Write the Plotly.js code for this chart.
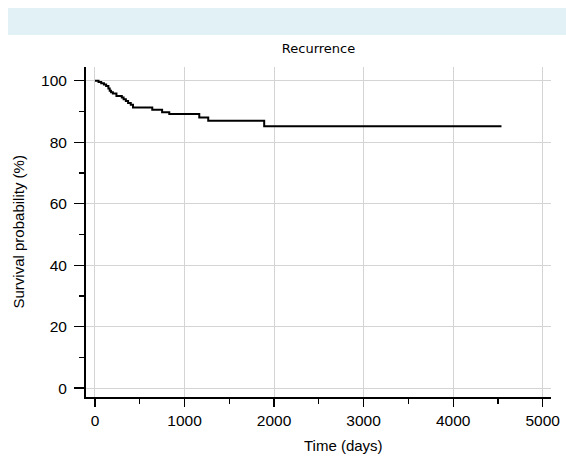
<!DOCTYPE html>
<html>
<head>
<meta charset="utf-8">
<script src="https://cdn.plot.ly/plotly-3.0.1.min.js"></script>
<style>html,body{margin:0;padding:0;background:#fff}#chart{width:566px;height:456px}</style>
</head>
<body>
<div id="chart"></div>
<script>
// Kaplan-Meier estimate
const timeDays = [0, 40, 70, 100, 125, 150, 165, 180, 200, 240, 300, 320, 345, 370, 400, 425, 640, 750, 830, 1165, 1265, 1890, 4540];
const survivalPct = [100, 99.6, 99.2, 98.8, 98.3, 97.5, 96.8, 96.3, 95.9, 95.1, 94.6, 94.0, 93.4, 92.8, 92.2, 91.3, 90.6, 89.8, 89.2, 88.1, 87.0, 85.2, 85.2];
const chartTitle = "Recurrence";
const xTitle = "Time (days)";
const yTitle = "Survival probability (%)";
const xTickVals = [0, 1000, 2000, 3000, 4000, 5000];
const yTickVals = [0, 20, 40, 60, 80, 100];

const trace = {
  x: timeDays,
  y: survivalPct,
  type: 'scatter',
  mode: 'lines',
  line: {shape: 'hv', color: '#000000', width: 2},
  hoverinfo: 'skip'
};

const arial = 'Liberation Sans, Arial, sans-serif';
const tickFont = {family: arial, size: 15.5, color: '#000'};
const titleFont = {family: arial, size: 15, color: '#000'};

const layout = {
  width: 566, height: 456,
  margin: {l: 86, r: 15, t: 67, b: 59},
  paper_bgcolor: '#ffffff',
  plot_bgcolor: '#ffffff',
  showlegend: false,
  title: {
    text: chartTitle,
    font: {family: 'DejaVu Sans, Verdana, sans-serif', size: 13, color: '#000'},
    x: 0.5, xref: 'paper', y: 1 - 48.5/456, yref: 'container', yanchor: 'middle'
  },
  xaxis: {
    range: [-100, 5093],
    tickvals: xTickVals,
    ticks: 'outside', ticklen: 8, tickwidth: 1.2, tickcolor: '#000',
    minor: {ticks: 'outside', dtick: 500, tick0: 0, ticklen: 5, tickwidth: 1.2, tickcolor: '#000', showgrid: false},
    showline: true, linecolor: '#000', linewidth: 2,
    showgrid: true, gridcolor: '#d4d4d4', gridwidth: 1,
    zeroline: false,
    tickfont: tickFont
  },
  yaxis: {
    range: [-2.9, 104.5],
    tickvals: yTickVals,
    ticks: 'outside', ticklen: 10, tickwidth: 1.2, tickcolor: '#000',
    minor: {ticks: 'outside', dtick: 10, tick0: 0, ticklen: 5, tickwidth: 1.2, tickcolor: '#000', showgrid: false},
    showline: true, linecolor: '#000', linewidth: 2,
    showgrid: true, gridcolor: '#d4d4d4', gridwidth: 1,
    zeroline: false,
    ticklabelstandoff: 4,
    tickfont: tickFont
  },
  annotations: [
    {text: xTitle, xref: 'paper', yref: 'paper', x: (343 - 86) / 465, y: 0,
     xanchor: 'center', yanchor: 'middle', yshift: -48.5, showarrow: false, font: titleFont},
    {text: yTitle, xref: 'paper', yref: 'paper', x: 0, y: 0.5, textangle: -90,
     xanchor: 'center', yanchor: 'middle', xshift: -68.5, showarrow: false, font: titleFont}
  ],
  shapes: [{
    type: 'rect', xref: 'paper', yref: 'paper',
    x0: -0.1677, x1: 1.04, y0: 1.097, y1: 1.1788,
    fillcolor: '#e1f1f5', line: {width: 0}, layer: 'below'
  }]
};

Plotly.newPlot('chart', [trace], layout, {displayModeBar: false, staticPlot: true});
</script>
</body>
</html>
